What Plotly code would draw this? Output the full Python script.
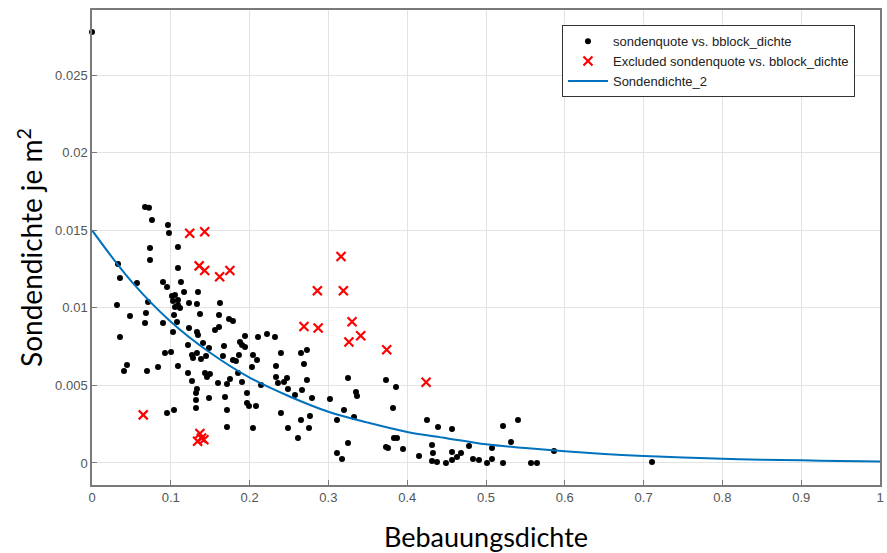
import plotly.graph_objects as go

# black points: sondenquote vs. bblock_dichte
pts_x = [0.0, 0.0673, 0.0723, 0.0761, 0.0964, 0.0977, 0.1091, 0.0736, 0.0736, 0.0330, 0.1091,
         0.0355, 0.0571, 0.0901, 0.0952, 0.1129, 0.1168, 0.1345, 0.1015, 0.1053, 0.0711,
         0.1028, 0.1091, 0.1091, 0.1231, 0.1053, 0.0317, 0.1117, 0.0685, 0.0482, 0.1041,
         0.0673, 0.0901, 0.1079, 0.1332, 0.1624, 0.1371, 0.1612, 0.1739, 0.1789, 0.1612,
         0.1561, 0.1231, 0.1028, 0.1332, 0.1345, 0.0355, 0.1942, 0.2107, 0.2221, 0.2322,
         0.1218, 0.1409, 0.1485, 0.1675, 0.1878, 0.1904, 0.1942, 0.0926, 0.1003, 0.1269,
         0.1332, 0.1282, 0.1383, 0.1447, 0.1662, 0.1789, 0.1827, 0.1865, 0.2043, 0.2094,
         0.2398, 0.0444, 0.0406, 0.0698, 0.0838, 0.1091, 0.1218, 0.1434, 0.1459, 0.1497,
         0.1853, 0.2030, 0.2335, 0.2335, 0.1269, 0.1599, 0.1713, 0.1751, 0.1904, 0.2145,
         0.2360, 0.2437, 0.2475, 0.1332, 0.1320, 0.1485, 0.1688, 0.1967, 0.1320, 0.1320,
         0.1967, 0.1992, 0.2081, 0.1713, 0.1041, 0.0952, 0.2398, 0.1713, 0.2043, 0.2487,
         0.2652, 0.2728, 0.2690, 0.2487, 0.2728, 0.2665, 0.2576, 0.2792, 0.3249, 0.3020,
         0.3350, 0.3363, 0.3731, 0.3858, 0.3820, 0.3198, 0.3325, 0.3109, 0.2652, 0.2766,
         0.2754, 0.2614, 0.3249, 0.3109, 0.3173, 0.3832, 0.3871, 0.3731, 0.3756, 0.3947,
         0.4251, 0.4391, 0.4569, 0.4315, 0.4327, 0.4150, 0.4315, 0.4378, 0.4492, 0.4569,
         0.4569, 0.4632, 0.4683, 0.4784, 0.4835, 0.4911, 0.5013, 0.5076, 0.5076, 0.5216,
         0.5216, 0.5317, 0.5406, 0.5571, 0.5647, 0.5863, 0.7107]
pts_y = [0.02777, 0.01649, 0.01645, 0.01566, 0.01533, 0.01482, 0.01392, 0.01385, 0.01308, 0.01282, 0.01256,
         0.01192, 0.01160, 0.01166, 0.01134, 0.01166, 0.01102, 0.01102, 0.01076, 0.01082, 0.01037,
         0.01044, 0.01050, 0.01018, 0.01031, 0.01005, 0.01018, 0.00999, 0.00966, 0.00947, 0.00954,
         0.00902, 0.00902, 0.00908, 0.01024, 0.01031, 0.00960, 0.00954, 0.00928, 0.00915, 0.00876,
         0.00857, 0.00870, 0.00844, 0.00844, 0.00825, 0.00812, 0.00818, 0.00812, 0.00831, 0.00812,
         0.00760, 0.00773, 0.00741, 0.00754, 0.00780, 0.00760, 0.00747, 0.00709, 0.00715, 0.00696,
         0.00709, 0.00677, 0.00670, 0.00689, 0.00689, 0.00664, 0.00657, 0.00696, 0.00696, 0.00664,
         0.00709, 0.00631, 0.00593, 0.00593, 0.00619, 0.00625, 0.00580, 0.00580, 0.00554, 0.00573,
         0.00580, 0.00619, 0.00625, 0.00554, 0.00528, 0.00515, 0.00509, 0.00541, 0.00522, 0.00503,
         0.00515, 0.00522, 0.00548, 0.00477, 0.00451, 0.00419, 0.00425, 0.00451, 0.00406, 0.00354,
         0.00387, 0.00367, 0.00367, 0.00341, 0.00341, 0.00322, 0.00322, 0.00232, 0.00226, 0.00226,
         0.00709, 0.00728, 0.00638, 0.00477, 0.00535, 0.00470, 0.00438, 0.00419, 0.00548, 0.00412,
         0.00457, 0.00432, 0.00535, 0.00490, 0.00354, 0.00341, 0.00296, 0.00277, 0.00277, 0.00303,
         0.00226, 0.00161, 0.00129, 0.00064, 0.00026, 0.00161, 0.00161, 0.00103, 0.00097, 0.00090,
         0.00277, 0.00232, 0.00219, 0.00116, 0.00064, 0.00045, 0.00013, 0.00006, 0.00000, 0.00071,
         0.00019, 0.00039, 0.00064, 0.00110, 0.00026, 0.00019, 0.00000, 0.00026, 0.00097, 0.00000,
         0.00238, 0.00135, 0.00277, 0.00000, 0.00000, 0.00077, 0.00006]

# excluded points
exc_x = [0.065, 0.124, 0.143, 0.136, 0.143, 0.162, 0.175, 0.269, 0.287, 0.286, 0.316,
         0.319, 0.330, 0.326, 0.341, 0.374, 0.424, 0.137, 0.134, 0.142, 0.139]
exc_y = [0.0031, 0.0148, 0.0149, 0.0127, 0.0124, 0.0120, 0.0124, 0.0088, 0.0087, 0.0111, 0.0133,
         0.0111, 0.0091, 0.0078, 0.0082, 0.0073, 0.0052, 0.0019, 0.0014, 0.0015, 0.0016]

# fitted curve Sondendichte_2
fit_x = [0.0, 0.05, 0.1, 0.15, 0.2, 0.25, 0.3, 0.35, 0.4, 0.45, 0.5, 0.55, 0.6, 0.65,
         0.7, 0.75, 0.8, 0.85, 0.9, 0.95, 1.0]
fit_y = [0.0150, 0.0117, 0.0091, 0.0071, 0.0055, 0.0043, 0.0033, 0.0026, 0.0020, 0.0016,
         0.0012, 0.00096, 0.00075, 0.00058, 0.00045, 0.00035, 0.00027, 0.00021, 0.00017,
         0.00013, 0.00010]

x_ticks = [0, 0.1, 0.2, 0.3, 0.4, 0.5, 0.6, 0.7, 0.8, 0.9, 1]
x_labels = ["0", "0.1", "0.2", "0.3", "0.4", "0.5", "0.6", "0.7", "0.8", "0.9", "1"]
y_ticks = [0, 0.005, 0.01, 0.015, 0.02, 0.025]
y_labels = ["0", "0.005", "0.01", "0.015", "0.02", "0.025"]

fig = go.Figure()
fig.add_trace(go.Scatter(x=pts_x, y=pts_y, mode="markers", cliponaxis=False,
                         name="sondenquote vs. bblock_dichte",
                         marker=dict(color="black", size=6, symbol="circle")))
fig.add_trace(go.Scatter(x=exc_x, y=exc_y, mode="markers",
                         name="Excluded sondenquote vs. bblock_dichte",
                         marker=dict(color="red", size=9, symbol="x-thin",
                                     line=dict(color="red", width=2.2))))
fig.add_trace(go.Scatter(x=fit_x, y=fit_y, mode="lines", name="Sondendichte_2",
                         line=dict(color="#0072BD", width=2, shape="spline")))

axis_common = dict(showline=True, mirror=True, linecolor="#7a7a7a", linewidth=1.5,
                   showgrid=True, gridcolor="#e3e3e3", gridwidth=1, zeroline=False,
                   ticks="inside", ticklen=5, tickcolor="#7a7a7a", automargin=False,
                   ticklabeloverflow="allow",
                   tickfont=dict(family="Liberation Sans, Arial", size=13, color="#555555"))

fig.update_xaxes(range=[0, 1.00001], tickvals=x_ticks, ticktext=x_labels,
                 title=dict(text="Bebauungsdichte", standoff=28,
                            font=dict(family="Lato, Open Sans", size=27, color="black")),
                 **axis_common)
fig.update_yaxes(range=[-0.00142, 0.02919], tickvals=y_ticks, ticktext=y_labels,
                 title=dict(text="Sondendichte je m<sup>2</sup>", standoff=4,
                            font=dict(family="Lato, Open Sans", size=28, color="black")),
                 **axis_common)

fig.update_layout(
    width=887, height=553,
    margin=dict(l=92, r=7, t=10, b=68),
    plot_bgcolor="white", paper_bgcolor="white",
    showlegend=True,
    legend=dict(x=0.5964, y=0.968, xanchor="left", yanchor="top",
                bgcolor="white", bordercolor="#333333", borderwidth=1,
                font=dict(family="Liberation Sans, Arial", size=13, color="#222222"),
                tracegroupgap=0, itemwidth=40),
)

fig.write_html("out.html", config={"displayModeBar": False},
               post_script="document.body.style.margin='0';")
